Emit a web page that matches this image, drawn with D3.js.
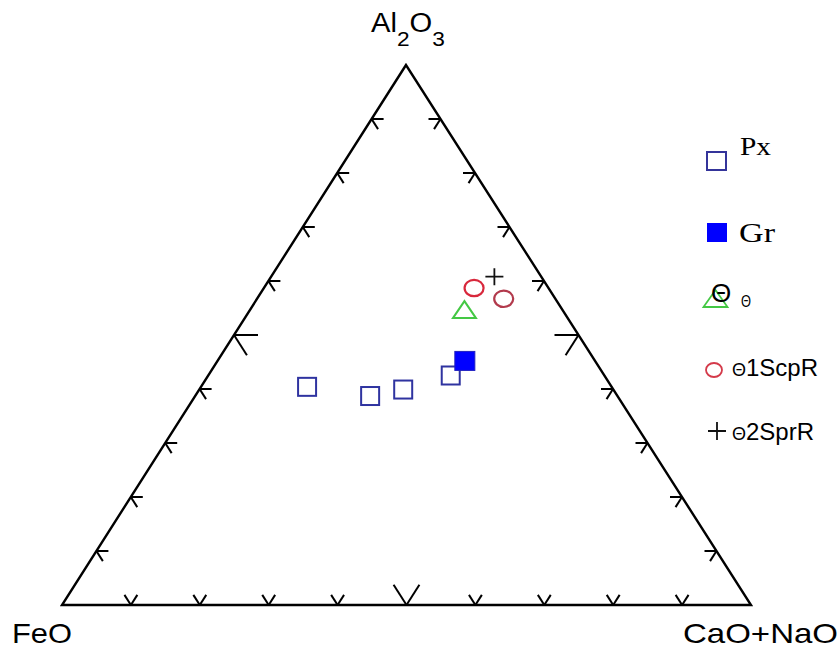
<!DOCTYPE html>
<html>
<head>
<meta charset="utf-8">
<script src="https://cdn.jsdelivr.net/npm/d3@7"></script>
<style>
  html, body { margin: 0; padding: 0; background: #fff; }
  svg { display: block; }
</style>
</head>
<body>
<div id="chart"></div>
<script>
// Compositions as [Al2O3, FeO, CaO+NaO] in percent
const pxSamples    = [[40.4, 44.2, 15.4], [38.7, 35.9, 25.4], [39.9, 30.5, 29.6], [42.5, 22.3, 35.2]];
const grSamples    = [[45.2, 18.9, 35.9]];
const thetaSamples = [[54.7, 14.2, 31.1]];
const scpSamples   = [[58.7, 10.8, 30.5], [56.7, 7.5, 35.8]];
const sprSamples   = [[60.8, 6.8, 32.4]];
const legendLabels = ["Px", "Gr", "\u0398", "\u03981ScpR", "\u03982SprR"];
const tickSteps    = [10, 20, 30, 40, 50, 60, 70, 80, 90];

const W = 839, H = 650;
const svg = d3.select("#chart").append("svg").attr("width", W).attr("height", H);

// Ternary scales: height by Al2O3, horizontal by CaO+NaO plus Al2O3 shift
const apex = {x: 406, y: 65}, left = {x: 62, y: 605}, right = {x: 751, y: 605};
const yA  = d3.scaleLinear().domain([0, 100]).range([left.y, apex.y]);
const xA  = d3.scaleLinear().domain([0, 100]).range([0, apex.x - left.x]);
const xC  = d3.scaleLinear().domain([0, 100]).range([0, right.x - left.x]);
const proj = d => ({x: left.x + xA(d[0]) + xC(d[2]), y: yA(d[0])});

// Triangle frame
svg.append("path")
  .attr("d", d3.line()([[apex.x, apex.y], [left.x, left.y], [right.x, right.y]]) + "Z")
  .attr("fill", "none").attr("stroke", "#000").attr("stroke-width", 2.4).attr("stroke-linejoin", "miter");

function unit(p, q) { const dx = q.x - p.x, dy = q.y - p.y, L = Math.hypot(dx, dy); return [dx / L, dy / L]; }
const upLeftEdge  = unit(left, apex);   // parallel to left edge, upward
const upRightEdge = unit(right, apex);  // parallel to right edge, upward
const downRight   = unit(apex, right);
const downLeft    = unit(apex, left);

const ticks = svg.append("g").attr("stroke", "#000").attr("stroke-width", 2).attr("fill", "none");
function tick(pt, dirs, len) {
  dirs.forEach(dv => {
    ticks.append("line").attr("x1", pt.x).attr("y1", pt.y)
      .attr("x2", pt.x + dv[0] * len).attr("y2", pt.y + dv[1] * len);
  });
}
tickSteps.forEach(v => {
  const len = v === 50 ? 24 : 12;
  // bottom edge (Al2O3 = 0)
  tick(proj([0, 100 - v, v]), [upLeftEdge, upRightEdge], len);
  // left edge (CaO+NaO = 0)
  tick(proj([v, 100 - v, 0]), [[1, 0], downRight], len);
  // right edge (FeO = 0)
  tick(proj([v, 0, 100 - v]), [[-1, 0], downLeft], len);
});

// Data marks
const g = svg.append("g");
const sq = 18;
g.selectAll(".px").data(pxSamples).join("rect")
  .attr("x", d => proj(d).x - sq / 2).attr("y", d => proj(d).y - sq / 2)
  .attr("width", sq).attr("height", sq)
  .attr("fill", "none").attr("stroke", "#2f33a0").attr("stroke-width", 2);
g.selectAll(".gr").data(grSamples).join("rect")
  .attr("x", d => proj(d).x - 10).attr("y", d => proj(d).y - 9.5)
  .attr("width", 20).attr("height", 19)
  .attr("fill", "#0000ff").attr("stroke", "#2020c0").attr("stroke-width", 1);
const tri = (cx, cy, w, h) => `M${cx - w / 2},${cy + h / 2}L${cx + w / 2},${cy + h / 2}L${cx},${cy - h / 2}Z`;
g.selectAll(".th").data(thetaSamples).join("path")
  .attr("d", d => { const p = proj(d); return tri(p.x, p.y, 23, 17); })
  .attr("fill", "none").attr("stroke", "#44c844").attr("stroke-width", 2);
g.selectAll(".scp").data(scpSamples).join("ellipse")
  .attr("cx", d => proj(d).x).attr("cy", d => proj(d).y)
  .attr("rx", 9.5).attr("ry", 8.2)
  .attr("fill", "none").attr("stroke", (d, i) => i === 0 ? "#d8283c" : "#b23a4c").attr("stroke-width", 2.2);
g.selectAll(".spr").data(sprSamples).join("path")
  .attr("d", d => { const p = proj(d); return `M${p.x - 9},${p.y}H${p.x + 9}M${p.x},${p.y - 8.5}V${p.y + 8.5}`; })
  .attr("fill", "none").attr("stroke", "#111").attr("stroke-width", 1.8);

// Vertex labels
const sans = "'Liberation Sans', Arial, sans-serif";
const serif = "'Liberation Serif', 'Times New Roman', serif";
const al = svg.append("text").attr("font-family", sans).attr("fill", "#000")
  .attr("transform", "translate(371,32) scale(1.08,1)").attr("font-size", 27);
al.append("tspan").text("Al");
al.append("tspan").attr("dy", 14).attr("font-size", 21).text("2");
al.append("tspan").attr("dy", -14).attr("font-size", 27).text("O");
al.append("tspan").attr("dy", 14).attr("font-size", 21).text("3");

svg.append("text").attr("x", 12).attr("y", 643).attr("font-family", sans).attr("font-size", 28)
  .attr("textLength", 60).attr("lengthAdjust", "spacingAndGlyphs").text("FeO");
svg.append("text").attr("x", 683).attr("y", 643).attr("font-family", sans).attr("font-size", 28)
  .attr("textLength", 155).attr("lengthAdjust", "spacingAndGlyphs").text("CaO+NaO");

// Legend
const lg = svg.append("g");
lg.append("rect").attr("x", 707).attr("y", 152).attr("width", 19).attr("height", 18)
  .attr("fill", "none").attr("stroke", "#34349a").attr("stroke-width", 2);
lg.append("text").attr("x", 740).attr("y", 155).attr("font-family", serif).attr("font-size", 26)
  .attr("textLength", 31).attr("lengthAdjust", "spacingAndGlyphs").text(legendLabels[0]);

lg.append("rect").attr("x", 707).attr("y", 223).attr("width", 20).attr("height", 19)
  .attr("fill", "#0000ff");
lg.append("text").attr("x", 739).attr("y", 242).attr("font-family", serif).attr("font-size", 27)
  .attr("textLength", 36).attr("lengthAdjust", "spacingAndGlyphs").text(legendLabels[1]);

lg.append("path").attr("d", tri(715.5, 298.5, 24, 17)).attr("fill", "none").attr("stroke", "#44c844").attr("stroke-width", 1.8);
lg.append("text").attr("x", 711).attr("y", 302).attr("font-family", sans).attr("font-size", 26).text(legendLabels[2]);
lg.append("text").attr("x", 741).attr("y", 307).attr("font-family", sans).attr("font-size", 16)
  .attr("textLength", 10).attr("lengthAdjust", "spacingAndGlyphs").text(legendLabels[2]);

lg.append("ellipse").attr("cx", 714).attr("cy", 370).attr("rx", 8).attr("ry", 7)
  .attr("fill", "none").attr("stroke", "#d43a4a").attr("stroke-width", 1.8);
const t4 = lg.append("text").attr("x", 732).attr("y", 376).attr("font-family", sans).attr("font-size", 24);
t4.append("tspan").attr("font-size", 18).text(legendLabels[3].slice(0, 1));
t4.append("tspan").text(legendLabels[3].slice(1));

lg.append("path").attr("d", "M708,431H726M717,422V440").attr("stroke", "#111").attr("stroke-width", 1.8);
const t5 = lg.append("text").attr("x", 732).attr("y", 440).attr("font-family", sans).attr("font-size", 24);
t5.append("tspan").attr("font-size", 18).text(legendLabels[4].slice(0, 1));
t5.append("tspan").text(legendLabels[4].slice(1));
</script>
</body>
</html>
